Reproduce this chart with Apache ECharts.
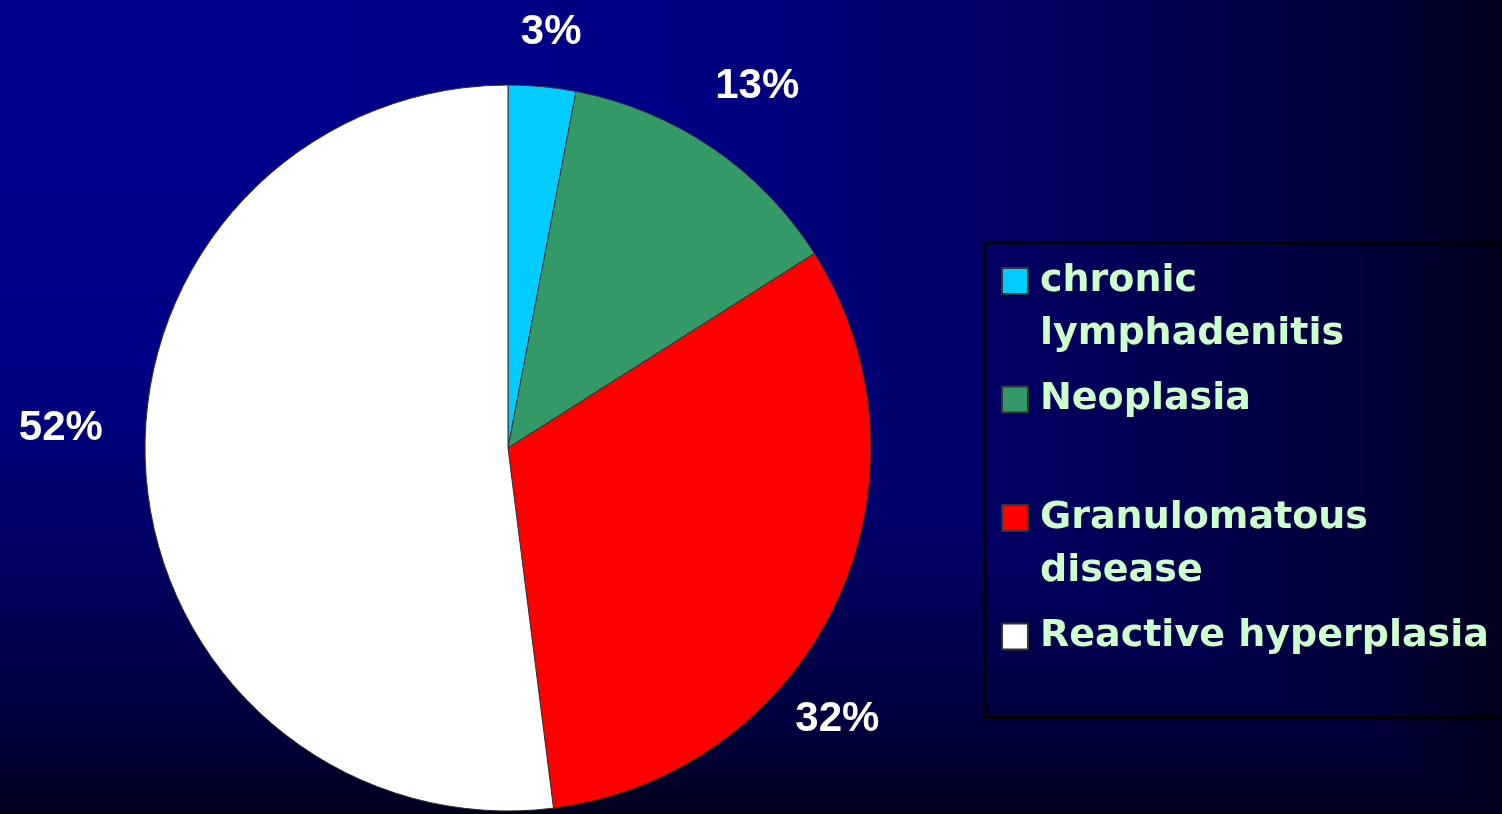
<!DOCTYPE html>
<html>
<head>
<meta charset="utf-8">
<style>
html,body{margin:0;padding:0;width:1502px;height:814px;overflow:hidden;background:#000033;}
.bg{position:absolute;left:0;top:0;width:1502px;height:814px;}
#bgH{background:linear-gradient(to right,#00008e 0%,#000086 45%,#000070 60%,#000055 75%,#00003c 90%,#00001e 100%);}
#bgV{background:linear-gradient(to bottom,#00008e 0%,#000086 45%,#000070 60%,#000055 75%,#00003c 90%,#00001e 100%);clip-path:polygon(0 0,100% 100%,0 100%);}
#chart{position:absolute;left:0;top:0;width:1502px;height:814px;}
</style>
<script src="https://cdn.jsdelivr.net/npm/echarts@6/dist/echarts.min.js"></script>
</head>
<body>
<div class="bg" id="bgH"></div>
<div class="bg" id="bgV"></div>
<div id="chart"></div>
<script>
// ---- data ----
const categories = ['chronic lymphadenitis', 'Neoplasia', 'Granulomatous disease', 'Reactive hyperplasia'];
const legendText = ['\nchronic\nlymphadenitis', '\nNeoplasia\n', '\nGranulomatous\ndisease', '\nReactive hyperplasia\n'];
const percentValues = [3, 13, 32, 52];

// ---- styles ----
const sliceColors = ['#00ccff', '#339966', '#ff0000', '#ffffff'];
const labelNudges = [[2, 20], [3, 1], [-67, 85], [-10, -47]];

const chart = echarts.init(document.getElementById('chart'), null, {renderer: 'canvas'});

const pieData = categories.map((name, i) => ({
  name: name,
  value: percentValues[i],
  itemStyle: {color: sliceColors[i]}
}));

const labelData = categories.map((name, i) => ({
  name: name,
  value: percentValues[i],
  label: {offset: labelNudges[i]}
}));

const option = {
  backgroundColor: 'transparent',
  animation: false,
  legend: {
    orient: 'vertical',
    left: 985,
    top: 243,
    padding: [-41.5, 90, 1.5, 16],
    borderColor: '#000004',
    borderWidth: 3,
    itemWidth: 26,
    itemHeight: 26,
    itemGap: -40.5,
    icon: 'rect',
    selectedMode: false,
    data: categories,
    formatter: function (name) { return legendText[categories.indexOf(name)]; },
    textStyle: {
      color: '#ccffcc',
      fontSize: 38,
      fontWeight: 'bold',
      fontFamily: 'DejaVu Sans',
      lineHeight: 53,
      padding: [0, 0, 0, 7]
    }
  },
  series: [
    {
      type: 'pie',
      center: [508, 448],
      radius: 363,
      startAngle: 90,
      clockwise: true,
      silent: true,
      label: {show: false},
      labelLine: {show: false},
      itemStyle: {borderColor: '#333333', borderWidth: 1},
      data: pieData
    },
    {
      type: 'pie',
      center: [508, 448],
      radius: [415, 455],
      startAngle: 90,
      clockwise: true,
      silent: true,
      legendHoverLink: false,
      avoidLabelOverlap: false,
      itemStyle: {color: 'rgba(0,0,0,0)', borderWidth: 0},
      label: {
        show: true,
        position: 'inside',
        formatter: '{c}%',
        color: '#ffffff',
        fontSize: 42,
        fontWeight: 'bold',
        fontFamily: 'Liberation Sans'
      },
      labelLine: {show: false},
      data: labelData
    }
  ]
};

chart.setOption(option);
</script>
</body>
</html>
